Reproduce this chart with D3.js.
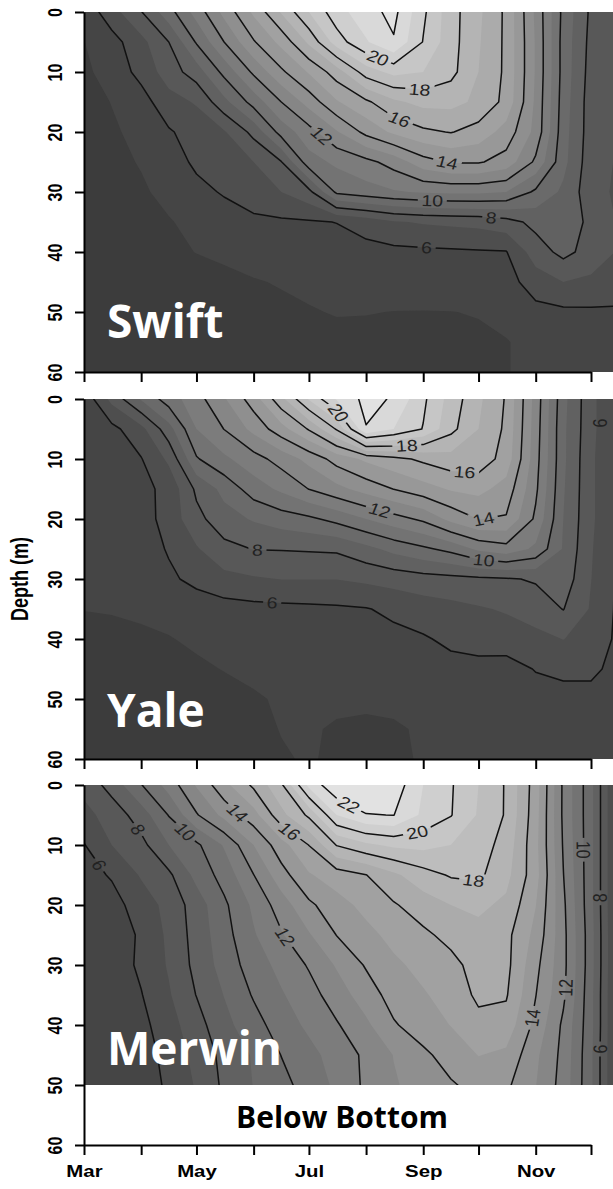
<!DOCTYPE html>
<html lang="en">
<head>
<meta charset="UTF-8">
<title>Reservoir temperature by depth</title>
<style>
  body { margin: 0; background: #fff; }
  svg { display: block; }
  .axis path, .axis line { stroke: #000; stroke-width: 2; }
  .clabel { font-family: "Liberation Sans", Arial, sans-serif; font-size: 16px; fill: #222; }
  .pname { font-family: "Open Sans", sans-serif; font-weight: 700; font-size: 46px; fill: #fff; }
</style>
</head>
<body>
<div id="chart"></div>
<script src="https://d3js.org/d3.v7.min.js"></script>
<script>
// sample grid: half-month columns, 5 m rows
const sampleDates = ["2011-03-01", "2011-03-16", "2011-04-01", "2011-04-16", "2011-05-01", "2011-05-16",
  "2011-06-01", "2011-06-16", "2011-07-01", "2011-07-16", "2011-08-01", "2011-08-16", "2011-09-01",
  "2011-09-16", "2011-10-01", "2011-10-16", "2011-11-01", "2011-11-16", "2011-12-01", "2011-12-16", "2012-01-01"];
const depths = [0, 5, 10, 15, 20, 25, 30, 35, 40, 45, 50, 55, 60];

const monthTicks = ["2011-03-01", "2011-04-01", "2011-05-01", "2011-06-01", "2011-07-01",
  "2011-08-01", "2011-09-01", "2011-10-01", "2011-11-01", "2011-12-01"];
const monthNames = ["Mar", "Apr", "May", "Jun", "Jul", "Aug", "Sep", "Oct", "Nov", "Dec"];
const depthTicks = [0, 10, 20, 30, 40, 50, 60];

const bandLevels = [5, 6, 7, 8, 9, 10, 11, 12, 13, 14, 15, 16, 17, 18, 19, 20, 21, 22, 23];
const lineLevels = [6, 8, 10, 12, 14, 16, 18, 20, 22];

// temperature (deg C), one row per depth
const swiftTemp = [
  [5.3, 6.6, 7.95, 9.6, 11.4, 13.3, 15.2, 17.1, 19.0, 20.6, 21.6, 22.3, 20.2, 18.4, 17.2, 15.8, 12.8, 9.7, 7.8, 7.2, 7.0],
  [4.98, 5.6, 6.7, 8.0, 10.1, 12.0, 13.9, 15.3, 17.2, 19.5, 20.9, 21.9, 19.95, 18.4, 17.1, 15.8, 12.9, 9.6, 7.7, 7.2, 7.0],
  [4.8, 5.4, 6.3, 7.5, 8.5, 10.3, 12.2, 13.8, 15.1, 16.5, 18.5, 19.3, 19.0, 18.3, 17.0, 15.8, 12.9, 9.6, 7.6, 7.1, 7.0],
  [4.7, 5.02, 5.6, 6.6, 7.1, 8.7, 10.4, 12.0, 13.4, 14.9, 15.8, 16.8, 17.3, 17.3, 16.8, 15.7, 12.8, 9.5, 7.5, 7.0, 6.9],
  [4.6, 4.9, 5.2, 5.9, 6.4, 6.9, 8.3, 10.4, 11.6, 12.9, 14.3, 15.2, 15.8, 16.05, 15.6, 14.6, 12.7, 9.4, 7.5, 7.0, 6.9],
  [4.5, 4.8, 5.05, 5.5, 6.2, 6.6, 7.0, 7.95, 10.6, 11.2, 11.7, 12.4, 13.6, 14.1, 14.1, 13.6, 11.8, 9.3, 7.4, 6.9, 6.8],
  [4.4, 4.7, 4.9, 5.2, 5.7, 6.1, 6.5, 7.0, 7.7, 10.2, 10.6, 10.9, 11.1, 11.2, 11.2, 11.0, 9.8, 8.8, 7.4, 6.8, 6.7],
  [4.3, 4.5, 4.7, 4.95, 5.2, 5.5, 5.8, 5.85, 5.9, 6.02, 6.4, 6.9, 7.1, 7.2, 7.3, 7.6, 8.3, 8.5, 7.8, 6.9, 6.8],
  [4.2, 4.4, 4.6, 4.8, 5.02, 5.15, 5.3, 5.4, 5.5, 5.6, 5.7, 5.75, 5.8, 5.85, 5.9, 5.95, 7.5, 8.3, 7.6, 6.9, 6.8],
  [4.2, 4.3, 4.4, 4.5, 4.65, 4.8, 4.95, 5.05, 5.15, 5.2, 5.25, 5.3, 5.35, 5.4, 5.45, 5.6, 6.5, 7.0, 6.8, 6.6, 6.5],
  [4.2, 4.25, 4.3, 4.4, 4.5, 4.6, 4.75, 4.85, 4.95, 5.04, 5.02, 4.99, 4.98, 4.99, 5.03, 5.3, 5.7, 5.8, 5.85, 5.85, 5.85],
  [4.2, 4.2, 4.25, 4.3, 4.4, 4.5, 4.6, 4.7, 4.75, 4.8, 4.85, 4.85, 4.85, 4.88, 4.9, 4.95, 5.3, 5.4, 5.4, 5.4, 5.4],
  [4.2, 4.2, 4.2, 4.25, 4.3, 4.4, 4.5, 4.6, 4.65, 4.7, 4.75, 4.75, 4.8, 4.85, 4.88, 4.95, 5.3, 5.4, 5.4, 5.4, 5.4]
];

const yaleTemp = [
  [5.3, 7.3, 9.1, 10.5, 11.6, 12.9, 14.5, 16.7, 19.1, 21.1, 22.3, 21.9, 20.2, 18.6, 17.2, 15.9, 12.6, 9.3, 7.3, 5.8, 5.5],
  [5.2, 5.7, 6.7, 8.6, 11.0, 12.02, 13.3, 14.6, 16.1, 18.1, 21.95, 21.0, 19.95, 18.3, 17.0, 15.8, 12.5, 9.2, 7.3, 5.8, 5.5],
  [5.2, 5.5, 5.95, 7.2, 9.9, 10.8, 11.6, 12.4, 13.3, 14.4, 15.2, 15.7, 16.2, 16.6, 16.6, 15.6, 12.4, 9.2, 7.2, 5.8, 5.5],
  [5.15, 5.35, 5.7, 6.3, 8.2, 9.3, 10.5, 11.2, 12.02, 12.7, 13.4, 14.02, 14.6, 15.1, 15.3, 14.6, 12.2, 9.1, 7.2, 5.8, 5.5],
  [5.15, 5.3, 5.55, 6.4, 7.7, 8.6, 9.1, 9.5, 9.8, 10.3, 11.0, 11.6, 12.2, 13.3, 14.02, 13.9, 11.8, 9.0, 7.2, 5.8, 5.5],
  [5.1, 5.25, 5.45, 6.1, 6.9, 7.7, 8.03, 8.05, 8.1, 8.15, 8.7, 9.3, 9.8, 10.3, 11.2, 11.6, 10.8, 8.9, 7.1, 5.8, 5.5],
  [5.1, 5.2, 5.35, 5.8, 6.3, 6.7, 6.9, 7.02, 7.02, 7.02, 7.2, 7.4, 7.6, 7.7, 7.8, 7.9, 8.1, 8.6, 7.02, 5.8, 5.5],
  [5.02, 5.05, 5.1, 5.2, 5.4, 5.6, 5.7, 5.75, 5.8, 5.85, 5.95, 6.2, 6.5, 6.7, 6.9, 7.1, 7.5, 8.03, 6.9, 5.8, 5.5],
  [4.7, 4.8, 4.9, 4.97, 5.1, 5.25, 5.35, 5.4, 5.45, 5.5, 5.6, 5.75, 5.9, 6.2, 6.4, 6.5, 6.7, 7.02, 6.6, 5.8, 5.5],
  [4.6, 4.65, 4.7, 4.8, 4.9, 5.02, 5.1, 5.2, 5.25, 5.3, 5.35, 5.45, 5.55, 5.7, 5.7, 5.6, 6.05, 6.2, 6.2, 5.7, 5.5],
  [4.5, 4.55, 4.6, 4.65, 4.7, 4.8, 4.95, 5.05, 5.1, 5.1, 5.1, 5.1, 5.15, 5.3, 5.4, 5.45, 5.6, 5.7, 5.7, 5.5, 5.4],
  [4.5, 4.5, 4.55, 4.6, 4.65, 4.7, 4.85, 5.02, 5.05, 4.95, 4.9, 4.95, 5.05, 5.15, 5.25, 5.3, 5.4, 5.5, 5.5, 5.4, 5.3],
  [4.5, 4.5, 4.5, 4.55, 4.6, 4.65, 4.8, 4.95, 5.05, 4.9, 4.85, 4.9, 5.05, 5.1, 5.2, 5.25, 5.35, 5.45, 5.45, 5.35, 5.3]
];

// Merwin only has water down to 50 m
const merwinTemp = [
  [7.3, 8.4, 9.95, 11.4, 13.1, 14.7, 16.2, 17.8, 21.3, 22.8, 23.0, 22.6, 21.0, 20.1, 19.0, 17.9, 15.5, 11.8, 9.3, 5.5, 5.0],
  [6.7, 7.4, 8.5, 10.05, 11.9, 13.3, 14.6, 16.7, 18.2, 21.0, 21.95, 22.02, 20.8, 20.05, 18.9, 17.9, 15.4, 11.8, 9.3, 5.5, 5.0],
  [5.95, 7.0, 7.7, 9.0, 9.8, 11.1, 13.0, 14.6, 16.02, 18.05, 18.8, 19.2, 19.3, 19.0, 18.5, 17.6, 15.3, 11.9, 9.3, 5.5, 5.0],
  [5.6, 6.1, 7.1, 7.8, 9.3, 10.4, 11.98, 13.6, 14.9, 15.5, 15.98, 16.8, 17.6, 18.1, 18.2, 17.3, 15.4, 12.03, 9.3, 5.5, 5.0],
  [5.2, 5.6, 6.5, 7.3, 8.5, 9.8, 11.2, 12.5, 13.8, 14.6, 15.3, 15.9, 16.5, 17.0, 17.2, 16.8, 15.03, 12.2, 9.3, 5.5, 5.0],
  [5.1, 5.4, 6.15, 7.2, 8.4, 9.6, 10.9, 11.9, 12.9, 14.02, 14.7, 15.3, 15.8, 16.3, 16.7, 16.3, 14.7, 12.3, 9.4, 5.5, 5.0],
  [5.05, 5.4, 6.2, 7.1, 8.3, 9.4, 10.5, 11.3, 12.1, 13.1, 14.1, 14.8, 15.3, 15.7, 16.4, 16.3, 14.3, 12.3, 9.4, 5.5, 5.0],
  [5.02, 5.3, 5.95, 6.9, 8.03, 9.03, 10.1, 10.9, 11.6, 12.5, 13.5, 14.4, 14.9, 15.4, 16.2, 16.1, 14.03, 12.2, 9.3, 5.5, 5.0],
  [5.02, 5.2, 5.7, 6.6, 7.6, 8.7, 9.6, 10.5, 11.2, 11.9, 12.8, 13.9, 14.5, 15.03, 15.7, 15.6, 13.7, 11.8, 9.3, 5.5, 5.0],
  [5.02, 5.1, 5.5, 6.35, 7.3, 8.3, 9.1, 10.02, 10.7, 11.4, 12.2, 13.03, 13.8, 14.4, 15.03, 14.8, 13.2, 11.7, 9.2, 5.5, 5.0],
  [5.02, 5.1, 5.4, 6.2, 7.1, 8.2, 9.03, 9.7, 10.4, 11.2, 12.2, 12.9, 13.4, 13.9, 14.3, 14.2, 13.03, 11.6, 9.2, 5.5, 5.0]
];

// contour labels: [value, date, depth]
const swiftLabels = [
  [20, "2011-08-07", 8], [18, "2011-08-30", 13.3], [16, "2011-08-19", 18], [12, "2011-07-09", 20.2],
  [14, "2011-09-14", 25], [10, "2011-09-06", 30.8], [8, "2011-10-08", 33.8], [6, "2011-09-03", 38]
];
const yaleLabels = [
  [20, "2011-07-14", 3], [18, "2011-08-23", 7.3], [16, "2011-09-23", 14.3], [12, "2011-08-08", 19],
  [14, "2011-10-04", 20.5], [8, "2011-06-03", 25.5], [10, "2011-10-04", 26.3], [6, "2011-06-11", 34.3],
  [6, "2011-12-10", 4]
];
const merwinLabels = [
  [22, "2011-07-24", 2.5], [20, "2011-08-29", 8.3], [18, "2011-09-28", 16.8], [16, "2011-06-21", 7.5],
  [14, "2011-05-23", 4.7], [10, "2011-04-25", 7.8], [8, "2011-03-30", 7.5], [6, "2011-03-07", 13.8],
  [12, "2011-06-18", 25.3], [10, "2011-11-29", 10.8], [8, "2011-12-08", 18.8], [14, "2011-10-28", 38.7],
  [12, "2011-11-17", 33.8], [6, "2011-12-11", 44]
];

const W = 613, H = 1189;
const left = 84, right = 613;
const panelH = 360;
const SX = 1.22; // the source picture is stretched a little sideways

const parseDate = d3.timeParse("%Y-%m-%d");

const x = d3.scaleTime()
  .domain([parseDate(monthTicks[0]), parseDate(monthTicks[monthTicks.length - 1])])
  .range([left, 591]);

const colToX = d3.scaleLinear()
  .domain(d3.range(sampleDates.length))
  .range(sampleDates.map(s => x(parseDate(s))));
const rowToDepth = d3.scaleLinear().domain(d3.range(depths.length)).range(depths);

const gray = d3.scaleLinear().domain([4, 23]).range(["#3c3c3c", "#ebebeb"]);

const panels = [
  { name: "Swift", temps: swiftTemp, labels: swiftLabels, top: 12, waterDepth: 60, nameY: 338, months: false },
  { name: "Yale", temps: yaleTemp, labels: yaleLabels, top: 399, waterDepth: 60, nameY: 727, months: false },
  { name: "Merwin", temps: merwinTemp, labels: merwinLabels, top: 785, waterDepth: 50, nameY: 1065, months: true }
];

const svg = d3.select("#chart").append("svg")
  .attr("width", W).attr("height", H);
const defs = svg.append("defs");

panels.forEach((p, pi) => {
  const nx = sampleDates.length, ny = p.temps.length;
  const values = p.temps.flat();
  const y = d3.scaleLinear().domain([0, 60]).range([p.top, p.top + panelH]);
  const plotBottom = y(p.waterDepth);

  // d3.contours puts sample i at coordinate i + 0.5
  const proj = pt => [colToX(pt[0] - 0.5), y(rowToDepth(pt[1] - 0.5))];
  const contours = d3.contours().size([nx, ny]);
  const ringPath = ring => "M" + ring.map(proj).map(q => q[0].toFixed(1) + "," + q[1].toFixed(1)).join("L") + "Z";
  const geomPath = g => g.coordinates.map(poly => poly.map(ringPath).join("")).join("");

  defs.append("clipPath").attr("id", "clip" + pi)
    .append("rect").attr("x", left).attr("y", p.top)
    .attr("width", right - left).attr("height", plotBottom - p.top);

  const plot = svg.append("g").attr("clip-path", `url(#clip${pi})`);

  plot.append("rect")
    .attr("x", left).attr("y", p.top)
    .attr("width", right - left).attr("height", plotBottom - p.top)
    .attr("fill", gray(4));

  plot.append("g").selectAll("path")
    .data(contours.thresholds(bandLevels)(values))
    .join("path")
    .attr("d", geomPath)
    .attr("fill", d => gray(d.value))
    .attr("fill-rule", "evenodd");

  const lineGeoms = contours.thresholds(lineLevels)(values);

  // labels sit on the nearest point of their own contour
  const inside = q => q[0] > left - 2 && q[0] < 655 && q[1] >= p.top - 0.5 && q[1] <= plotBottom + 0.5;
  const fs = 16;
  const placed = [];
  p.labels.forEach(([v, ds, dep]) => {
    const g = lineGeoms.find(c => c.value === v);
    if (!g) return;
    const ax = x(parseDate(ds)), ay = y(dep);
    let best = null;
    g.coordinates.forEach(poly => poly.forEach(ring => {
      const pts = ring.map(proj);
      for (let i = 0; i < pts.length - 1; i++) {
        const a = pts[i], b = pts[i + 1];
        if (!inside(a) || !inside(b)) continue;
        const dx = b[0] - a[0], dy = b[1] - a[1];
        const len2 = dx * dx + dy * dy;
        if (len2 < 1e-6) continue;
        let t = ((ax - a[0]) * dx + (ay - a[1]) * dy) / len2;
        t = Math.max(0, Math.min(1, t));
        const qx = a[0] + t * dx, qy = a[1] + t * dy;
        const d = (qx - ax) ** 2 + (qy - ay) ** 2;
        if (!best || d < best.d) best = { d, x: qx, y: qy, dx, dy };
      }
    }));
    if (!best) return;
    let ang = Math.atan2(best.dy, best.dx / SX) * 180 / Math.PI;
    if (ang >= 90) ang -= 180;
    if (ang < -90) ang += 180;
    const w = String(v).length * 0.556 * fs;
    const lx = Math.min(best.x, right - 13); // keep edge labels inside the picture
    placed.push({ v, w, tr: `translate(${lx.toFixed(1)},${best.y.toFixed(1)}) scale(${SX},1) rotate(${ang.toFixed(1)})` });
  });

  const mask = defs.append("mask").attr("id", "mask" + pi)
    .attr("maskUnits", "userSpaceOnUse")
    .attr("x", 0).attr("y", 0).attr("width", W).attr("height", H);
  mask.append("rect").attr("width", W).attr("height", H).attr("fill", "#fff");
  mask.selectAll("rect.gap").data(placed).join("rect")
    .attr("class", "gap")
    .attr("transform", d => d.tr)
    .attr("x", d => -d.w / 2 - 3).attr("y", -fs * 0.45)
    .attr("width", d => d.w + 6).attr("height", fs * 0.9)
    .attr("fill", "#000");

  plot.append("g").attr("mask", `url(#mask${pi})`)
    .selectAll("path")
    .data(lineGeoms)
    .join("path")
    .attr("d", geomPath)
    .attr("fill", "none")
    .attr("stroke", "#111")
    .attr("stroke-width", 1.5)
    .attr("stroke-linejoin", "round");

  svg.append("g").selectAll("text")
    .data(placed)
    .join("text")
    .attr("class", "clabel")
    .attr("transform", d => d.tr)
    .attr("text-anchor", "middle")
    .attr("dy", "0.36em")
    .text(d => d.v);

  svg.append("text")
    .attr("class", "pname")
    .attr("x", left + 23)
    .attr("y", p.nameY)
    .text(p.name);

  if (p.waterDepth < 60) {
    svg.append("text")
      .attr("x", 342)
      .attr("y", 1128)
      .attr("text-anchor", "middle")
      .style("font-family", "'Open Sans', sans-serif")
      .style("font-weight", 700)
      .style("font-size", "30px")
      .text("Below Bottom");
  }

  // depth axis
  svg.append("g")
    .attr("class", "axis")
    .attr("transform", `translate(${left},0)`)
    .call(d3.axisLeft(y).tickValues(depthTicks).tickSize(9).tickSizeOuter(0))
    .call(g => g.selectAll("text")
      .attr("x", null)
      .attr("dy", "0.36em")
      .attr("text-anchor", "middle")
      .attr("transform", `translate(-29,0) scale(1.3,1) rotate(-90)`)
      .style("font-family", "'Liberation Sans', Arial, sans-serif")
      .style("font-weight", "bold")
      .style("font-size", "16px")
      .style("fill", "#000"));

  // month axis
  svg.append("g")
    .attr("class", "axis")
    .attr("transform", `translate(0,${y(60)})`)
    .call(d3.axisBottom(x)
      .tickValues(monthTicks.map(parseDate))
      .tickSize(10)
      .tickSizeOuter(0)
      .tickFormat((d, i) => (p.months && i % 2 === 0) ? monthNames[i] : ""))
    .call(g => g.selectAll("text")
      .attr("x", 0)
      .attr("y", 20)
      .attr("transform", "scale(1.2,1)")
      .style("font-family", "'Liberation Sans', Arial, sans-serif")
      .style("font-weight", "bold")
      .style("font-size", "17px")
      .style("fill", "#000"));
});

svg.append("text")
  .attr("transform", `translate(20,579) scale(1.3,1) rotate(-90)`)
  .attr("text-anchor", "middle")
  .attr("dy", "0.36em")
  .style("font-family", "'Liberation Sans', Arial, sans-serif")
  .style("font-weight", "bold")
  .style("font-size", "18px")
  .text("Depth (m)");
</script>
</body>
</html>
